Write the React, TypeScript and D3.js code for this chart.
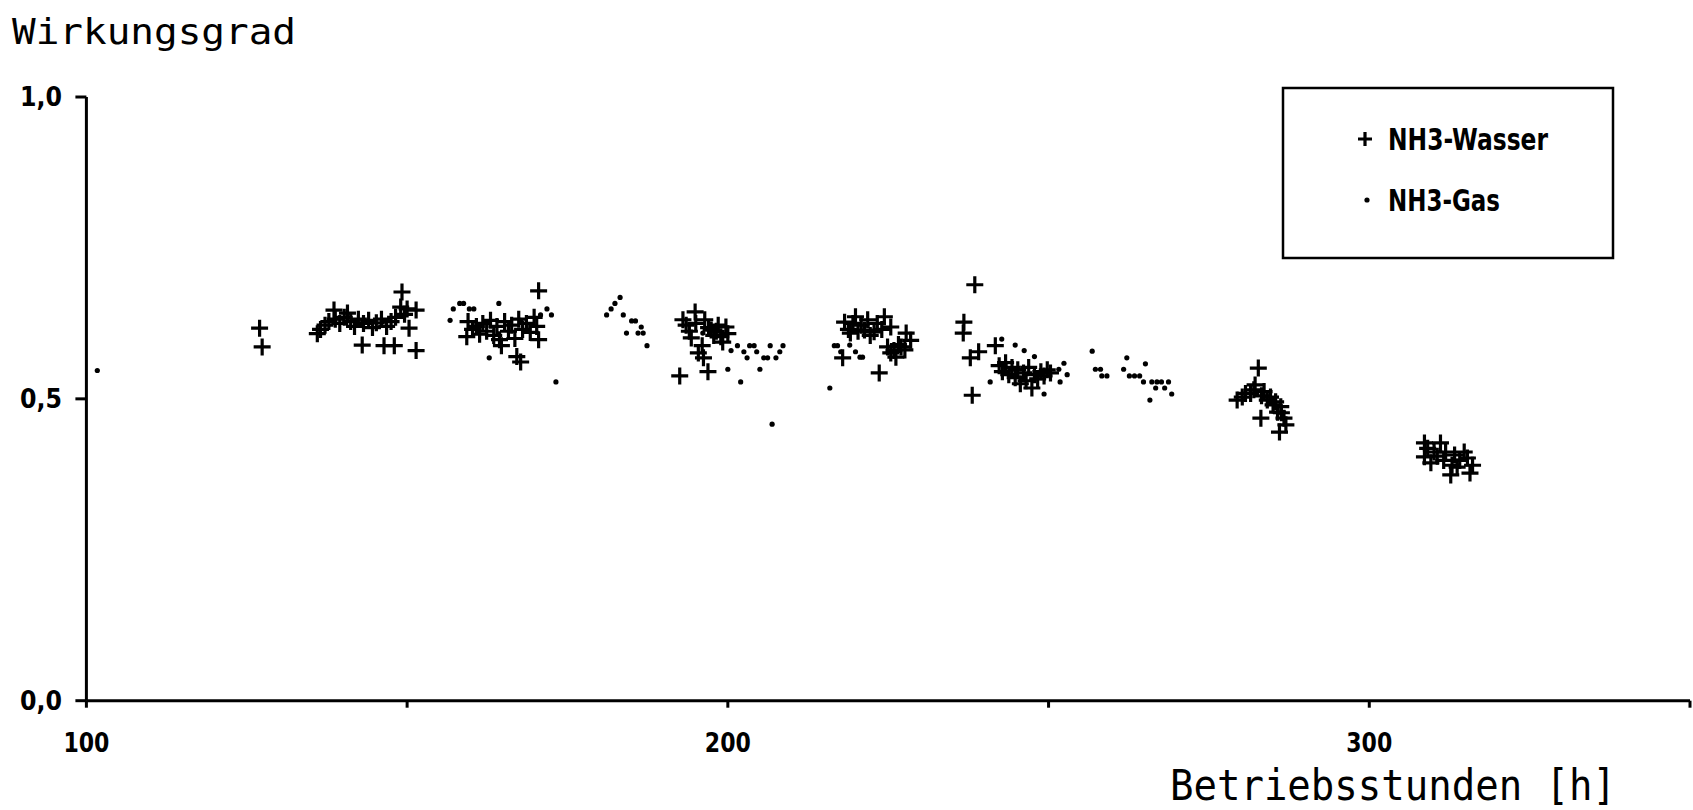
import React from "react";
import * as d3 from "d3";

// NH3-Wasser: [Betriebsstunden, Wirkungsgrad]
const nh3Wasser: [number, number][] = [
  [127.0, 0.617], [127.4, 0.586],
  [136.0, 0.608], [136.5, 0.615], [137.2, 0.622], [137.8, 0.628], [138.6, 0.647], [138.8, 0.632],
  [139.5, 0.625], [140.2, 0.635], [140.7, 0.642], [141.2, 0.628], [141.8, 0.62], [142.4, 0.632],
  [143.0, 0.589], [143.2, 0.625], [144.0, 0.63], [144.6, 0.618], [145.2, 0.626], [146.0, 0.632],
  [146.4, 0.588], [146.8, 0.62], [147.5, 0.628], [148.0, 0.588], [148.2, 0.635], [149.0, 0.652],
  [149.2, 0.677], [149.6, 0.64], [150.0, 0.649], [150.3, 0.617], [151.4, 0.647], [151.4, 0.58],
  [159.3, 0.603], [159.5, 0.628], [160.2, 0.615], [160.8, 0.62], [161.3, 0.607], [161.8, 0.625],
  [162.4, 0.612], [163.0, 0.63], [163.5, 0.605], [164.0, 0.62], [164.4, 0.598], [164.7, 0.588],
  [165.2, 0.628], [165.8, 0.612], [166.3, 0.622], [166.8, 0.6], [167.1, 0.57], [167.4, 0.632],
  [167.7, 0.561], [168.0, 0.615], [168.6, 0.625], [169.2, 0.61], [169.8, 0.635], [170.5, 0.679],
  [170.5, 0.598], [170.2, 0.62],
  [192.5, 0.538], [193.0, 0.631], [193.5, 0.622], [194.0, 0.612], [194.3, 0.601], [194.9, 0.644],
  [195.0, 0.625], [195.4, 0.576], [196.0, 0.588], [196.2, 0.568], [196.4, 0.631], [196.9, 0.545],
  [197.0, 0.618], [197.4, 0.614], [197.8, 0.605], [198.2, 0.612], [198.5, 0.622], [198.9, 0.603],
  [199.2, 0.594], [199.7, 0.619], [200.0, 0.608],
  [217.9, 0.568], [218.2, 0.627], [218.8, 0.615], [219.1, 0.609], [219.5, 0.625], [219.9, 0.636],
  [220.3, 0.612], [220.8, 0.622], [221.3, 0.614], [221.8, 0.631], [222.2, 0.605], [222.8, 0.611],
  [223.3, 0.625], [223.6, 0.543], [224.0, 0.615], [224.4, 0.636], [224.9, 0.586], [225.4, 0.619],
  [225.4, 0.576], [225.9, 0.58], [226.2, 0.569], [226.6, 0.59], [227.0, 0.586], [227.6, 0.581],
  [227.8, 0.609], [228.5, 0.597],
  [236.7, 0.609], [236.8, 0.627], [237.8, 0.568], [238.1, 0.506], [238.5, 0.689], [239.1, 0.578],
  [241.7, 0.588], [242.3, 0.555], [242.8, 0.545], [243.3, 0.56], [243.8, 0.54], [244.3, 0.552],
  [244.8, 0.535], [245.2, 0.548], [245.6, 0.525], [246.1, 0.543], [246.5, 0.53], [246.9, 0.552],
  [247.4, 0.518], [247.8, 0.54], [248.3, 0.533], [248.8, 0.545], [249.3, 0.538], [249.8, 0.548],
  [250.3, 0.543],
  [279.4, 0.498], [280.2, 0.503], [280.7, 0.509], [281.5, 0.509], [282.0, 0.515], [282.2, 0.523],
  [282.7, 0.551], [283.1, 0.468], [283.2, 0.505], [283.6, 0.512], [284.1, 0.498], [284.6, 0.503],
  [285.0, 0.49], [285.4, 0.495], [285.7, 0.478], [286.2, 0.487], [286.3, 0.477], [286.0, 0.445],
  [286.7, 0.468], [287.0, 0.457],
  [308.6, 0.427], [308.6, 0.404], [309.1, 0.418], [309.6, 0.394], [310.1, 0.412], [310.6, 0.405],
  [311.1, 0.427], [311.6, 0.398], [311.9, 0.412], [312.7, 0.374], [312.9, 0.39], [313.3, 0.407],
  [313.7, 0.387], [314.1, 0.398], [314.8, 0.412], [315.3, 0.402], [315.7, 0.377], [316.1, 0.39],
];

// NH3-Gas: [Betriebsstunden, Wirkungsgrad]
const nh3Gas: [number, number][] = [
  [101.7, 0.547],
  [156.7, 0.63], [157.2, 0.649], [158.2, 0.658], [158.8, 0.658], [159.7, 0.649], [160.4, 0.649],
  [162.8, 0.568], [164.3, 0.658], [167.7, 0.63], [170.8, 0.639], [171.8, 0.649], [172.5, 0.639],
  [173.2, 0.528],
  [181.1, 0.639], [181.8, 0.649], [182.4, 0.658], [183.2, 0.668], [183.7, 0.639], [184.2, 0.609],
  [185.0, 0.629], [185.6, 0.629], [186.0, 0.609], [186.5, 0.619], [186.8, 0.609], [187.4, 0.588],
  [196.1, 0.609], [200.0, 0.549], [200.5, 0.58], [201.5, 0.588], [202.0, 0.528], [202.5, 0.578],
  [203.0, 0.568], [203.4, 0.588], [204.1, 0.588], [204.5, 0.578], [205.0, 0.549], [205.6, 0.568],
  [206.2, 0.568], [206.6, 0.588], [206.9, 0.458], [207.5, 0.568], [208.1, 0.578], [208.6, 0.588],
  [215.9, 0.518], [216.6, 0.588], [217.1, 0.588], [217.6, 0.578], [219.0, 0.589], [219.9, 0.578],
  [220.6, 0.569], [221.0, 0.569],
  [240.9, 0.528], [242.7, 0.599], [244.8, 0.589], [246.2, 0.58], [247.8, 0.57], [249.3, 0.508],
  [251.6, 0.549], [251.8, 0.528], [252.4, 0.559], [252.9, 0.54],
  [256.8, 0.579], [257.3, 0.549], [258.1, 0.549], [258.3, 0.538], [259.1, 0.538], [261.7, 0.549],
  [262.2, 0.568], [262.6, 0.538], [263.4, 0.538], [264.2, 0.538], [264.8, 0.528], [265.1, 0.558],
  [265.8, 0.498], [266.1, 0.528], [266.7, 0.518], [266.9, 0.528], [267.6, 0.528], [268.1, 0.518],
  [268.7, 0.528], [269.2, 0.508],
];

const xTicks = [100, 150, 200, 250, 300, 350];
const xTickLabels = ["100", "", "200", "", "300", ""];
const yTicks = [0, 0.5, 1.0];
const yTickLabels = ["0,0", "0,5", "1,0"];

const W = 1693;
const H = 810;
const monoFont = "'DejaVu Sans Mono', monospace";
const boldFont = "'DejaVu Sans', sans-serif";

const Cross = ({ x, y, s }: { x: number; y: number; s: number }) => (
  <path d={`M${x - s / 2},${y}H${x + s / 2}M${x},${y - s / 2}V${y + s / 2}`} stroke="#000" strokeWidth={3.2} />
);

export default function App() {
  const x = d3.scaleLinear().domain([100, 350]).range([86.4, 1690]);
  const y = d3.scaleLinear().domain([0, 1]).range([700.7, 97]);

  return (
    <svg
      width={W}
      height={H}
      style={{ position: "fixed", left: 0, top: 0, background: "#fff" }}
    >
      <rect width={W} height={H} fill="#fff" />

      {/* titles */}
      <text x={12} y={44} fontFamily={monoFont} fontSize={36} textLength={284} lengthAdjust="spacingAndGlyphs">
        Wirkungsgrad
      </text>
      <text x={1170} y={800} fontFamily={monoFont} fontSize={42} textLength={446} lengthAdjust="spacingAndGlyphs">
        Betriebsstunden [h]
      </text>

      {/* axes */}
      <line x1={x(100)} x2={x(350)} y1={y(0)} y2={y(0)} stroke="#000" strokeWidth={3} />
      <line x1={x(100)} x2={x(100)} y1={y(0)} y2={y(1)} stroke="#000" strokeWidth={3} />
      {xTicks.map((t, i) => (
        <g key={"xt" + t}>
          <line x1={x(t)} x2={x(t)} y1={y(0)} y2={y(0) + 7} stroke="#000" strokeWidth={3} />
          {xTickLabels[i] && (
            <text
              x={x(t)}
              y={752}
              textAnchor="middle"
              fontFamily={boldFont}
              fontWeight="bold"
              fontSize={26}
              textLength={46}
              lengthAdjust="spacingAndGlyphs"
            >
              {xTickLabels[i]}
            </text>
          )}
        </g>
      ))}
      {yTicks.map((t, i) => (
        <g key={"yt" + t}>
          <line x1={x(100) - 11} x2={x(100)} y1={y(t)} y2={y(t)} stroke="#000" strokeWidth={3} />
          <text
            x={20}
            y={y(t) + 9}
            fontFamily={boldFont}
            fontWeight="bold"
            fontSize={26}
            textLength={42}
            lengthAdjust="spacingAndGlyphs"
          >
            {yTickLabels[i]}
          </text>
        </g>
      ))}

      {/* data */}
      {nh3Gas.map((d, i) => (
        <circle key={"g" + i} cx={x(d[0])} cy={y(d[1])} r={2.6} fill="#000" />
      ))}
      {nh3Wasser.map((d, i) => (
        <Cross key={"w" + i} x={x(d[0])} y={y(d[1])} s={17} />
      ))}

      {/* legend */}
      <rect x={1283} y={88} width={330} height={170} fill="none" stroke="#000" strokeWidth={2.5} />
      <Cross x={1365} y={139} s={14} />
      <text x={1388} y={150} fontFamily={boldFont} fontWeight="bold" fontSize={30} textLength={160} lengthAdjust="spacingAndGlyphs">
        NH3-Wasser
      </text>
      <circle cx={1367} cy={200} r={2.6} fill="#000" />
      <text x={1388} y={211} fontFamily={boldFont} fontWeight="bold" fontSize={30} textLength={112} lengthAdjust="spacingAndGlyphs">
        NH3-Gas
      </text>
    </svg>
  );
}
